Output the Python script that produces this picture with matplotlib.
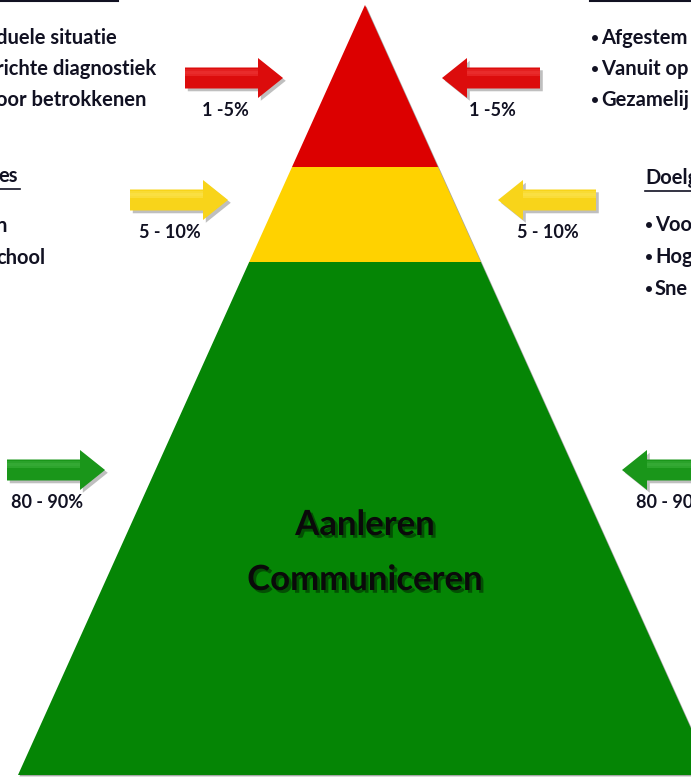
import numpy as np
import matplotlib
matplotlib.use("Agg")
import matplotlib.pyplot as plt
import matplotlib.patheffects as pe
from matplotlib.patches import Polygon

# ─── Data ────────────────────────────────────────────────────────────────────
tier_colors = ["#dc0000", "#ffd200", "#058505"]
tier_tops = [5, 167, 262]          # tier start (pixel rows)
pyr_bottom = 775
center_lines = ["Aanleren", "Communiceren"]

arrow_pct = ["1 -5%", "5 - 10%", "80 - 90%"]
arrow_colors = ["#dc0c0c", "#f8d41a", "#1a961a"]
arrow_hi = ["#ff5a5a", "#fff080", "#5cc85c"]
arrow_y = [78, 200, 470]
arrow_left_x = [185, 130, 7]       # tail of right-pointing arrows
arrow_right_x = [540, 596, 720]    # tail of left-pointing arrows

left_top = ["duele situatie", "richte diagnostiek", "oor betrokkenen"]
right_top = ["Afgestem", "Vanuit op", "Gezamelij"]
left_mid_head = "es"
left_mid = ["n", "chool"]
right_mid_head = "Doelg"
right_mid = ["Voo", "Hog", "Sne"]

FONT = "Lato"
TXT = "#111122"

W, H = 691, 777
fig = plt.figure(figsize=(W / 100, H / 100), dpi=100, facecolor="white")
ax = fig.add_axes([0, 0, 1, 1])
ax.set_xlim(0, W)
ax.set_ylim(H, 0)
ax.axis("off")

# ─── Pyramid ─────────────────────────────────────────────────────────────────
apex_x, apex_y = 365, tier_tops[0]
slope = (apex_x - 18) / (pyr_bottom - apex_y)


def half_width(y):
    return (y - apex_y) * slope


bounds = tier_tops + [pyr_bottom]
for i, col in enumerate(tier_colors):
    y0, y1 = bounds[i], bounds[i + 1]
    w0, w1 = half_width(y0), half_width(y1)
    pts = [(apex_x - w0, y0), (apex_x + w0, y0), (apex_x + w1, y1), (apex_x - w1, y1)]
    ax.add_patch(Polygon(pts, closed=True, fc=col, ec="none", zorder=2,
                         path_effects=[pe.withSimplePatchShadow(offset=(1, -1),
                                                                shadow_rgbFace="k", alpha=0.35)]))

shadow = [pe.withSimplePatchShadow(offset=(2, -2), shadow_rgbFace="k", alpha=0.4)]
for k, line in enumerate(center_lines):
    ax.text(apex_x, 525 + k * 55, line, ha="center", va="center", fontsize=25,
            fontweight="bold", family=FONT, color="#0a0a0a", zorder=5,
            path_effects=shadow)


# ─── Arrows ──────────────────────────────────────────────────────────────────
def arrow(x_tail, y, direction, col, hi):
    L, head, sh, hh = 98, 25, 10.5, 20
    tip = x_tail + direction * L
    neck = tip - direction * head
    pts = [(x_tail, y - sh), (neck, y - sh), (neck, y - hh), (tip, y),
           (neck, y + hh), (neck, y + sh), (x_tail, y + sh)]
    ax.add_patch(Polygon(pts, closed=True, fc=col, ec="none", zorder=3,
                         path_effects=[pe.withSimplePatchShadow(offset=(2, -2),
                                                                shadow_rgbFace="k", alpha=0.25)]))
    # soft highlight on the upper half of the shaft
    for j, a in enumerate([0.25, 0.4, 0.3]):
        ax.add_patch(Polygon([(x_tail, y - sh + 1 + 2.5 * j), (neck, y - sh + 1 + 2.5 * j),
                              (neck, y - sh + 3.5 + 2.5 * j), (x_tail, y - sh + 3.5 + 2.5 * j)],
                             closed=True, fc=hi, ec="none", alpha=a, zorder=4))


for i in range(3):
    arrow(arrow_left_x[i], arrow_y[i], 1, arrow_colors[i], arrow_hi[i])
    arrow(arrow_right_x[i], arrow_y[i], -1, arrow_colors[i], arrow_hi[i])
    ax.text(arrow_left_x[i] + 40, arrow_y[i] + 33, arrow_pct[i], ha="center",
            va="center", fontsize=13, fontweight="bold", family=FONT, color=TXT)
    ax.text(arrow_right_x[i] - 48, arrow_y[i] + 33, arrow_pct[i], ha="center",
            va="center", fontsize=13, fontweight="bold", family=FONT, color=TXT)

# ─── Side texts ──────────────────────────────────────────────────────────────
kw = dict(fontsize=14.5, fontweight="bold", family=FONT, color=TXT, va="center")
bkw = dict(fontsize=10, fontweight="bold", family=FONT, color=TXT, va="center")
for k, t in enumerate(left_top):
    ax.text(-4, 38 + k * 31, t, ha="left", **kw)
for k, t in enumerate(right_top):
    ax.text(591, 38 + k * 31, "•", ha="left", **bkw)
    ax.text(601, 38 + k * 31, t, ha="left", **kw)

ax.text(-2, 176, left_mid_head, ha="left", **kw)
ax.plot([0, 20], [189, 189], color=TXT, lw=1.2)
for k, t in enumerate(left_mid):
    ax.text(-4, 226 + k * 32, t, ha="left", **kw)

ax.text(645, 178, right_mid_head, ha="left", **kw)
ax.plot([645, 691], [191, 191], color=TXT, lw=1.2)
for k, t in enumerate(right_mid):
    ax.text(645, 225 + k * 32, "•", ha="left", **bkw)
    ax.text(655, 225 + k * 32, t, ha="left", **kw)

# underlines of headings cut off at the top
ax.plot([0, 118], [1, 1], color=TXT, lw=1.5)
ax.plot([590, 691], [1, 1], color=TXT, lw=1.5)

fig.savefig("out.png", dpi=100, facecolor="white")
